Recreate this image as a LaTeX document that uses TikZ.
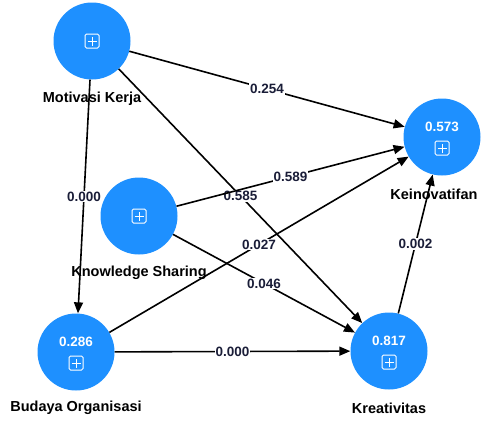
\documentclass[tikz,border=0pt]{standalone}
\usepackage{fontspec}
\setmainfont{Liberation Sans}
\usepackage{tikz}
\definecolor{lvblue}{HTML}{1E90FF}
\definecolor{wtnavy}{HTML}{1A1D38}
\usetikzlibrary{positioning, arrows.meta, shapes}
\tikzstyle{arrow} = [line width=1.6pt,-{Triangle[length=11pt,width=9pt]}]
\tikzstyle{lv} = [circle, fill=lvblue, minimum size=77pt, inner sep=0pt]
\tikzstyle{lvname} = [font=\fontsize{14.5}{16}\selectfont\bfseries]
\tikzstyle{rsq} = [text=white, font=\fontsize{13.5}{15}\selectfont\bfseries]
\tikzstyle{wt} = [fill=white, inner sep=1pt, text=wtnavy, font=\fontsize{13.5}{15}\selectfont\bfseries]
\tikzset{plusbox/.pic={
    \draw[white, line width=1pt, rounded corners=1.5pt] (-7pt,-7pt) rectangle (7pt,7pt);
    \draw[white, line width=1pt] (-4.5pt,0pt) -- (4.5pt,0pt) (0pt,-4.5pt) -- (0pt,4.5pt);
}}

\begin{document}
\begin{tikzpicture}[x=1pt,y=-1pt]
                \useasboundingbox (0,0) rectangle (482,421);
                % latent variables
                \node[lv] (mk) at (92,41) {};
                \node[lv] (ks) at (139,216) {};
                \node[lv] (ki) at (442,137) {};
                \node[lv] (bo) at (76,352) {};
                \node[lv] (kr) at (389,351) {};
                \node[rsq] at ([yshift=10pt]ki) {0.573};
                \node[rsq] at ([yshift=10pt]bo) {0.286};
                \node[rsq] at ([yshift=10pt]kr) {0.817};
                \pic at (mk) {plusbox};
                \pic at (ks) {plusbox};
                \pic at ([yshift=-11pt]ki) {plusbox};
                \pic at ([yshift=-11pt]bo) {plusbox};
                \pic at ([yshift=-11pt]kr) {plusbox};
                \node[lvname] (mkname) at (92,99) {Motivasi Kerja};
                \node[lvname] (ksname) at (139,273) {Knowledge Sharing};
                \node[lvname, anchor=east] (kiname) at (481,194) {Keinovatifan};
                \node[lvname] (boname) at (76,408) {Budaya Organisasi};
                \node[lvname] (krname) at (389,408) {Kreativitas};
                % paths
                \draw[arrow] (mk) -- node[wt] {0.254} (ki);
                \draw[arrow] (mk) -- node[wt] {0.000} (bo);
                \draw[arrow] (mk) -- node[wt] {0.585} (kr);
                \draw[arrow] (ks) -- node[wt] {0.589} (ki);
                \draw[arrow] (ks) -- node[wt] {0.046} (kr);
                \draw[arrow] (bo) -- node[wt] {0.027} (ki);
                \draw[arrow] (bo) -- node[wt] {0.000} (kr);
                \draw[arrow] (kr) -- node[wt] {0.002} (ki);
\end{tikzpicture}
\end{document}
